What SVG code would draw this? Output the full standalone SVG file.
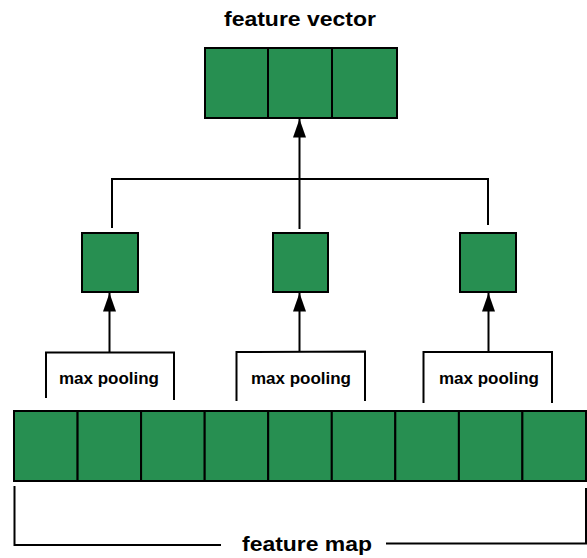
<svg xmlns="http://www.w3.org/2000/svg" width="587" height="558" viewBox="0 0 587 558">
<style>
.cell{fill:#278F51;stroke:#000;stroke-width:2}
.ln{fill:none;stroke:#000;stroke-width:2}
.t{font-family:"Liberation Sans",Arial,sans-serif;font-weight:bold;fill:#000}
</style>
<defs>
<marker id="ah" markerWidth="19" markerHeight="13" refX="20" refY="7" orient="auto" markerUnits="userSpaceOnUse" viewBox="0 0 20 14">
<path d="M0,0 L20,7 L0,14 Z" fill="#000"/>
</marker>
</defs>
<rect width="587" height="558" fill="#fff"/>
<text class="t" x="300" y="26" font-size="21" text-anchor="middle" textLength="152" lengthAdjust="spacingAndGlyphs">feature vector</text>
<g id="feature-vector">
<rect class="cell" x="205" y="48" width="63" height="70"/>
<rect class="cell" x="268" y="48" width="64" height="70"/>
<rect class="cell" x="332" y="48" width="65" height="70"/>
</g>
<g id="pool1"><rect class="cell" x="82" y="233" width="56" height="59"/></g>
<g id="pool2"><rect class="cell" x="273" y="233" width="55" height="59"/></g>
<g id="pool3"><rect class="cell" x="460" y="233" width="56" height="59"/></g>
<g id="feature-map">
<rect class="cell" x="14" y="411" width="63.6" height="70"/>
<rect class="cell" x="77.6" y="411" width="63.5" height="70"/>
<rect class="cell" x="141.1" y="411" width="63.6" height="70"/>
<rect class="cell" x="204.7" y="411" width="63.5" height="70"/>
<rect class="cell" x="268.2" y="411" width="63.6" height="70"/>
<rect class="cell" x="331.8" y="411" width="63.5" height="70"/>
<rect class="cell" x="395.3" y="411" width="63.6" height="70"/>
<rect class="cell" x="458.9" y="411" width="63.5" height="70"/>
<rect class="cell" x="522.4" y="411" width="63.6" height="70"/>
</g>
<g id="labels">
<text class="t" x="109" y="384" font-size="16" text-anchor="middle" textLength="100" lengthAdjust="spacingAndGlyphs">max pooling</text>
<text class="t" x="301" y="384" font-size="16" text-anchor="middle" textLength="100" lengthAdjust="spacingAndGlyphs">max pooling</text>
<text class="t" x="489" y="384" font-size="16" text-anchor="middle" textLength="100" lengthAdjust="spacingAndGlyphs">max pooling</text>
<text class="t" x="307" y="551" font-size="21" text-anchor="middle" textLength="130" lengthAdjust="spacingAndGlyphs">feature map</text>
</g>
<g id="connectors">
<path class="ln" d="M46,398 L46,352.5 L174,352.5 L174,400"/>
<path class="ln" d="M236.5,401 L236.5,352 L365,351.5 L365,401"/>
<path class="ln" d="M423.5,403 L423.5,352 L552,352 L552,403"/>
<path class="ln" d="M109.5,352 L109.5,293" marker-end="url(#ah)"/>
<path class="ln" d="M299.5,352 L299.5,293" marker-end="url(#ah)"/>
<path class="ln" d="M488.5,352 L488.5,293" marker-end="url(#ah)"/>
<path class="ln" d="M112,228 L112,179 L488,179 L488,225"/>
<path class="ln" d="M299.5,229 L299.5,119" marker-end="url(#ah)"/>
<path class="ln" d="M14.5,486 L14.5,545 L221,545"/>
<path class="ln" d="M386,543.5 L586,543.5 L586,488"/>
</g>
</svg>
